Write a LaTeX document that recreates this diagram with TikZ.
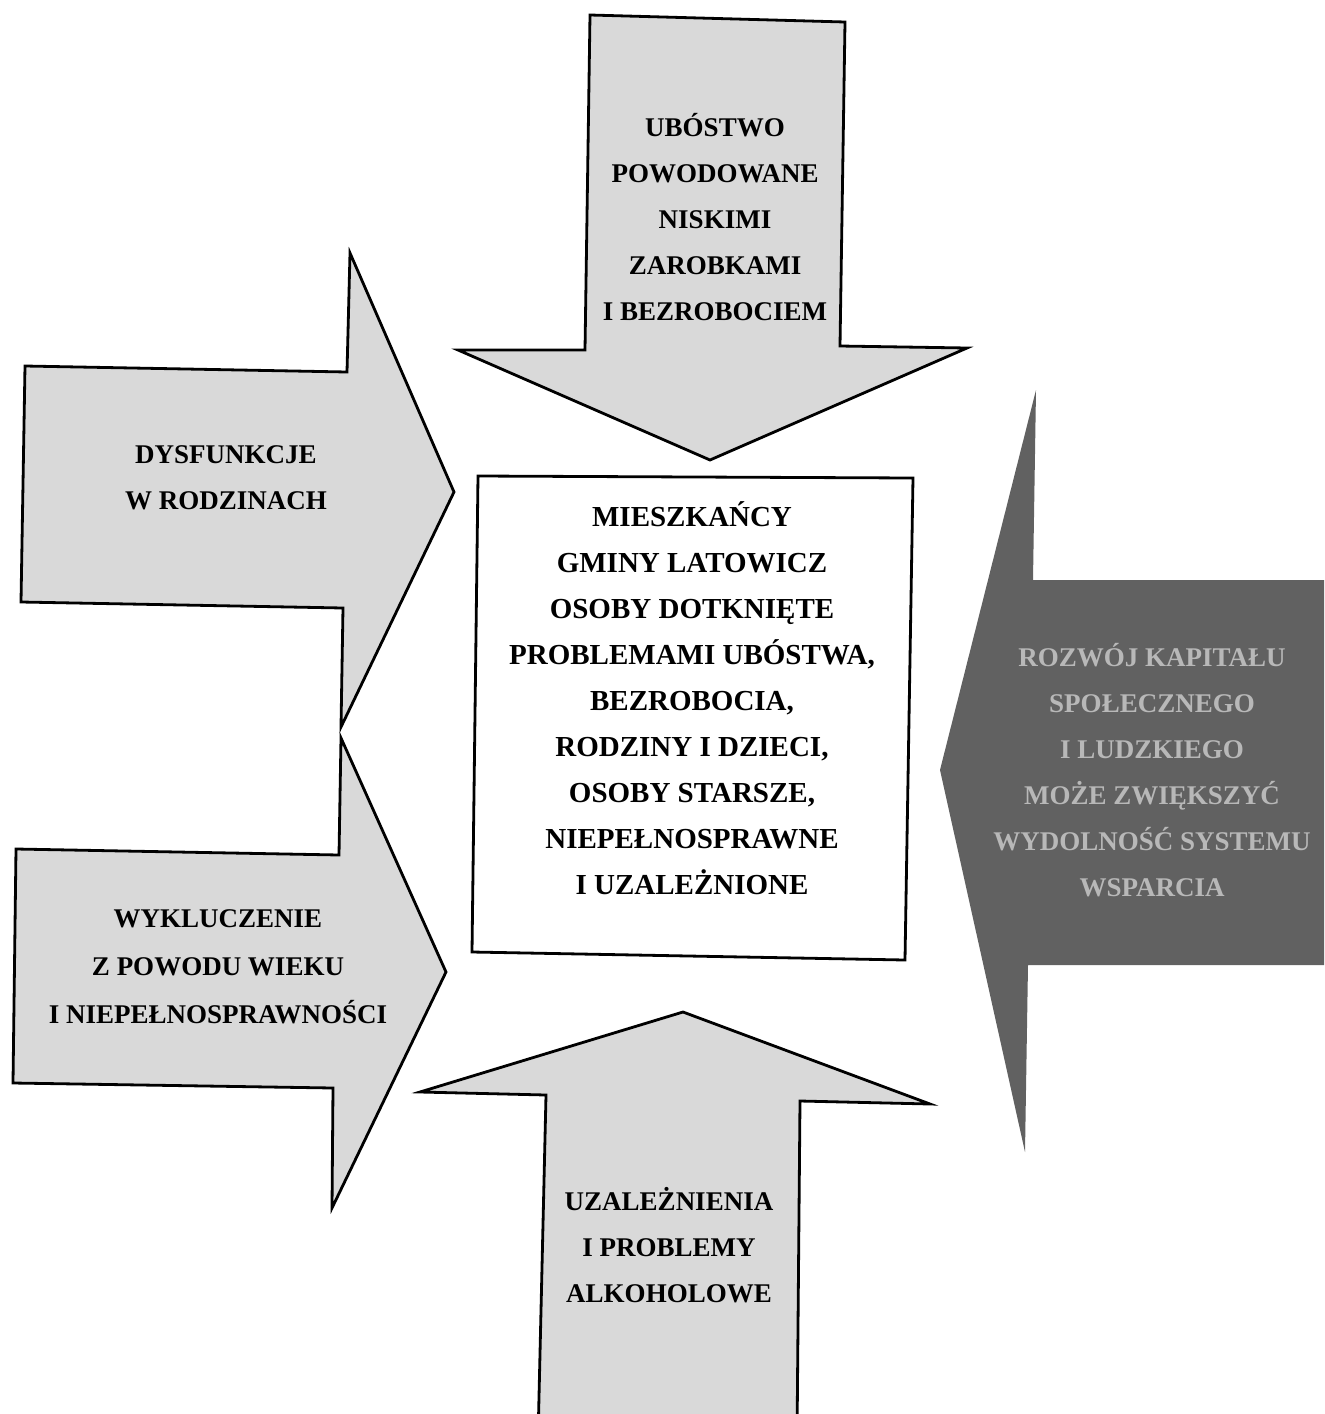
\documentclass[tikz,border=0pt]{standalone}
\usepackage{fontspec}
\setmainfont{Liberation Serif}
\begin{document}
\begin{tikzpicture}[x=0.5pt,y=-0.5pt,
  arrowshape/.style={draw=black, line width=1.4pt, fill=black!15, line join=miter},
  darkshape/.style={fill=black!62, draw=none},
  framebox/.style={draw=black, line width=1.4pt, fill=white},
  lbl/.style={align=center, font=\fontsize{13.5}{23}\selectfont\bfseries, inner sep=0pt},
  boxlbl/.style={align=center, font=\fontsize{14.5}{23}\selectfont\bfseries, inner sep=0pt},
  darklbl/.style={lbl, text=black!28}]
\useasboundingbox (0,0) rectangle (1324,1414);
\fill[white] (0,0) rectangle (1324,1414);
\clip (0,0) rectangle (1324,1414);

% top arrow (pointing down)
\draw[arrowshape] (590,15) -- (845,22) -- (840,346) -- (967,348) -- (710,460)
  -- (458,350) -- (585,350) -- cycle;
\node[lbl] (top) at (715,217) {UBÓSTWO\\POWODOWANE\\NISKIMI\\ZAROBKAMI\\I BEZROBOCIEM};

% upper left arrow
\draw[arrowshape] (25,366) -- (347,372) -- (350,253) -- (454,492) -- (341,727)
  -- (343,608) -- (21,602) -- cycle;
\node[lbl] (ul) at (226,478) {DYSFUNKCJE\\W RODZINACH};

% lower left arrow
\draw[arrowshape] (16,849) -- (339,855) -- (341,738) -- (446,972) -- (332,1208)
  -- (333,1088) -- (13,1083) -- cycle;
\node[lbl, font=\fontsize{13.5}{24}\selectfont\bfseries] (ll) at (218,967)
  {WYKLUCZENIE\\Z POWODU WIEKU\\I NIEPEŁNOSPRAWNOŚCI};

% bottom arrow (pointing up)
\draw[arrowshape] (538,1440) -- (546,1095) -- (420,1092) -- (683,1012) -- (930,1104)
  -- (800,1101) -- (797,1440) -- cycle;
\node[lbl] (bot) at (669,1245) {UZALEŻNIENIA\\I PROBLEMY\\ALKOHOLOWE};

% right dark arrow (pointing left)
\fill[darkshape] (1360,580) -- (1033,580) -- (1036,390) -- (940,770) -- (1025,1152)
  -- (1028,965) -- (1360,965) -- cycle;
\node[darklbl] (rt) at (1152,770)
  {ROZWÓJ KAPITAŁU\\SPOŁECZNEGO\\I LUDZKIEGO\\MOŻE ZWIĘKSZYĆ\\WYDOLNOŚĆ SYSTEMU\\WSPARCIA};

% central box
\draw[framebox] (478,476) -- (913,478) -- (905,960) -- (472,952) -- cycle;
\node[boxlbl] (center) at (692,698)
  {MIESZKAŃCY\\GMINY LATOWICZ\\OSOBY DOTKNIĘTE\\PROBLEMAMI UBÓSTWA,\\BEZROBOCIA,\\RODZINY I DZIECI,\\OSOBY STARSZE,\\NIEPEŁNOSPRAWNE\\I UZALEŻNIONE};
\end{tikzpicture}
\end{document}
